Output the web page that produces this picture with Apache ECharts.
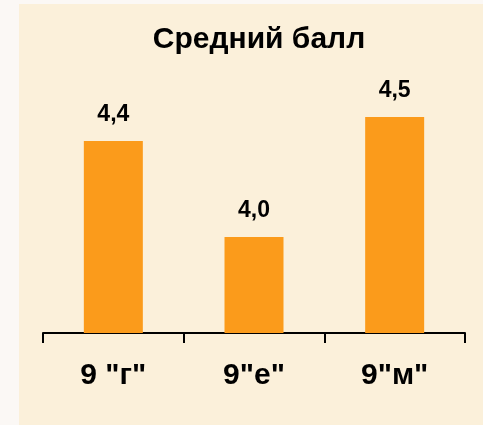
<!DOCTYPE html>
<html><head><meta charset="utf-8">
<script src="https://cdn.jsdelivr.net/npm/echarts@6/dist/echarts.min.js"></script>
<style>
html,body{margin:0;padding:0;background:#FBF8F5;}
#wrap{position:absolute;left:19px;top:4px;width:464px;height:421px;background:#FBF0DA;}
#c{position:absolute;left:0;top:0;width:483px;height:425px;}
</style></head>
<body>
<div id="wrap"></div>
<div id="c"></div>
<script>
const titleText = 'Средний балл';
const categories = ['9 "г"', '9"е"', '9"м"'];
const values = [4.4, 4.0, 4.5];

const chart = echarts.init(document.getElementById('c'));
chart.setOption({
  backgroundColor: 'transparent',
  animation: false,
  title: {
    text: titleText,
    left: 254, top: 20, textAlign: 'center',
    textStyle: {fontFamily: 'Liberation Sans', fontWeight: 'bold', fontSize: 30, color: '#000'}
  },
  grid: {left: 43, right: 18, top: 93, bottom: 92},
  xAxis: {
    type: 'category', data: categories,
    axisLine: {lineStyle: {color: '#000', width: 2}},
    axisTick: {show: true, length: 10, lineStyle: {color: '#000', width: 2}},
    axisLabel: {fontFamily: 'Liberation Sans', fontWeight: 'bold', fontSize: 30, color: '#000', margin: 28}
  },
  yAxis: {
    type: 'value', min: 3.6, max: 4.6, show: false, splitLine: {show: false}
  },
  series: [{
    type: 'bar', data: values, barWidth: 59,
    itemStyle: {color: '#FB9B1B'},
    label: {
      show: true, position: 'top', distance: 15,
      formatter: p => p.value.toFixed(1).replace('.', ','),
      fontFamily: 'Liberation Sans', fontWeight: 'bold', fontSize: 23, color: '#000'
    }
  }]
});
</script>
</body></html>
